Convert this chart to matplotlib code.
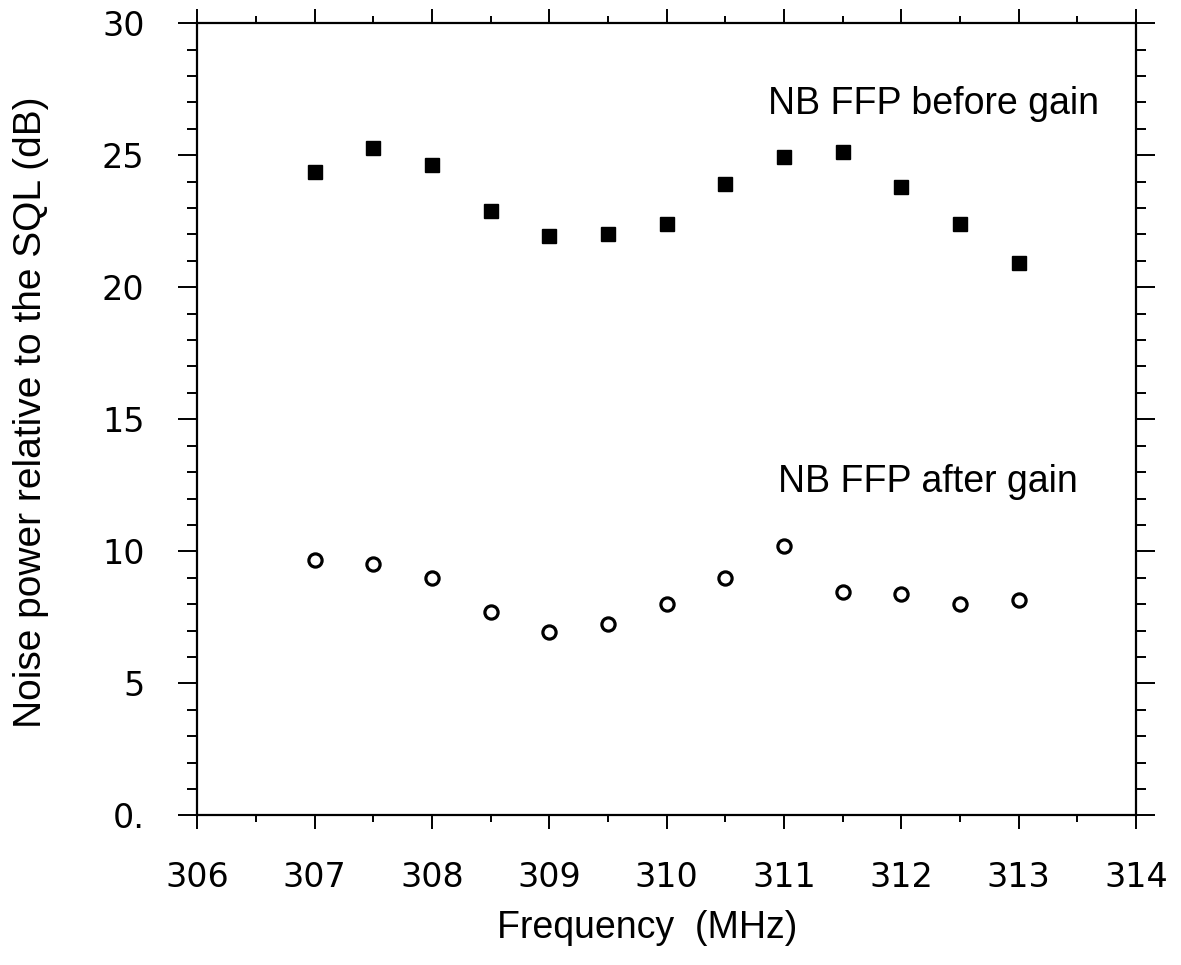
import numpy as np
import matplotlib
matplotlib.use('Agg')
import matplotlib.pyplot as plt
from matplotlib.ticker import MultipleLocator, FixedLocator

# data
freq = [307.0, 307.5, 308.0, 308.5, 309.0, 309.5, 310.0,
        310.5, 311.0, 311.5, 312.0, 312.5, 313.0]
before_gain = [24.38, 25.27, 24.63, 22.90, 21.94, 22.02, 22.39,
               23.92, 24.95, 25.12, 23.78, 22.40, 20.92]
after_gain = [9.66, 9.52, 9.00, 7.69, 6.96, 7.26, 8.02,
              9.00, 10.20, 8.46, 8.38, 7.99, 8.15]

xticks = [306, 307, 308, 309, 310, 311, 312, 313, 314]
yticks = [0, 5, 10, 15, 20, 25, 30]
ytick_labels = ['0.', '5', '10', '15', '20', '25', '30']

plt.rcParams['font.family'] = ['Liberation Sans', 'DejaVu Sans']

fig = plt.figure(figsize=(11.81, 9.65), dpi=100)
ax = fig.add_axes([0.167, 0.155, 0.795, 0.821])

ax.plot(freq, before_gain, linestyle='none', marker='s', markersize=10.5,
        color='black')
ax.plot(freq, after_gain, linestyle='none', marker='o', markersize=9.5,
        markerfacecolor='white', markeredgecolor='black', markeredgewidth=2.3)

ax.text(310.86, 26.55, 'NB FFP before gain', fontsize=27, ha='left', va='baseline')
ax.text(310.95, 12.25, 'NB FFP after gain', fontsize=27, ha='left', va='baseline')

ax.set_xlim(306, 314)
ax.set_ylim(0, 30)
ax.xaxis.set_major_locator(FixedLocator(xticks))
ax.xaxis.set_minor_locator(MultipleLocator(0.5))
ax.yaxis.set_major_locator(FixedLocator(yticks))
ax.yaxis.set_minor_locator(MultipleLocator(1))
ax.set_yticklabels(ytick_labels)

for s in ax.spines.values():
    s.set_linewidth(1.6)

ax.tick_params(axis='x', which='both', direction='out', top=True, bottom=True, width=1.4)
ax.tick_params(axis='x', which='major', length=10, pad=23)
ax.tick_params(axis='x', which='minor', length=5)
ax.tick_params(axis='y', which='both', direction='out', left=True, right=True, width=1.4)
ax.tick_params(axis='y', which='major', length=14, pad=24)
ax.tick_params(axis='y', which='minor', length=7)

for lbl in ax.get_xticklabels() + ax.get_yticklabels():
    lbl.set_family('DejaVu Sans')
    lbl.set_fontsize(24)

fig.text(0.548, 0.038, 'Frequency  (MHz)', fontsize=27, ha='center', va='center')
fig.text(0.026, 0.573, 'Noise power relative to the SQL (dB)', fontsize=28,
         rotation=90, ha='center', va='center')

fig.savefig('out.png', dpi=100)
